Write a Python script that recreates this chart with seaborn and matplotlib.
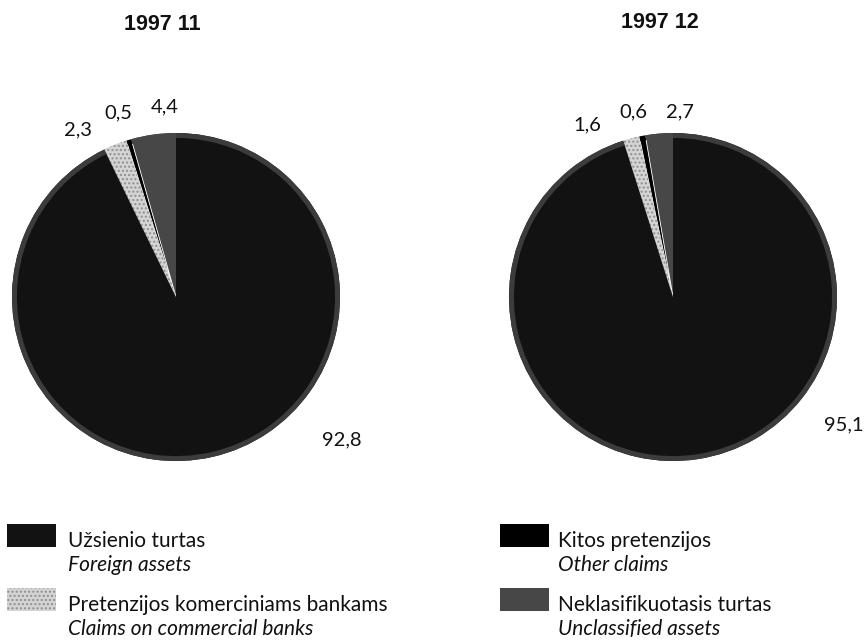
import matplotlib
matplotlib.use("Agg")
import matplotlib.pyplot as plt
from matplotlib.patches import Rectangle
import seaborn as sns

# data (slices counterclockwise from 12 o'clock)
categories = ["Neklasifikuotasis turtas", "Kitos pretenzijos",
              "Pretenzijos komerciniams bankams", "Užsienio turtas"]
categories_en = ["Unclassified assets", "Other claims",
                 "Claims on commercial banks", "Foreign assets"]
periods = ["1997 11", "1997 12"]
values_nov = [4.4, 0.5, 2.3, 92.8]
values_dec = [2.7, 0.6, 1.6, 95.1]
value_labels_nov = ["4,4", "0,5", "2,3", "92,8"]
value_labels_dec = ["2,7", "0,6", "1,6", "95,1"]

sns.set_theme(style="white")
plt.rcParams["font.family"] = ["Lato", "DejaVu Sans"]

colors = ["#474747", "#000000", "#d4d4d4", "#121212"]
rim_colors = ["#474747", "#000000", "#d4d4d4", "#3c3c3c"]
hatches = ["", "", "....", ""]

W, H = 866, 641
fig = plt.figure(figsize=(W / 100, H / 100), dpi=100)

# label positions (in units of radius) for each pie
label_pos = [
    [(-0.07, 1.16), (-0.35, 1.12), (-0.60, 1.02), (1.01, -0.87)],
    [(0.04, 1.13), (-0.24, 1.13), (-0.52, 1.05), (1.04, -0.78)],
]

R = 164
centers = [(176, 297), (673, 297)]
title_xy = [(162, 25), (660, 22)]
for i, (vals, labs) in enumerate([(values_nov, value_labels_nov),
                                   (values_dec, value_labels_dec)]):
    cx, cy = centers[i]
    ax = fig.add_axes([(cx - R) / W, 1 - (cy + R) / H, 2 * R / W, 2 * R / H])
    wedges, _ = ax.pie(vals, colors=colors, startangle=90, counterclock=True,
                       wedgeprops=dict(linewidth=0))
    for w, h in zip(wedges, hatches):
        if h:
            w.set_hatch(h)
            w.set_edgecolor("#8f8f8f")
            w.set_linewidth(0)
    wedges[1].set_edgecolor("white")
    wedges[1].set_linewidth(0.6)
    # grey dithered rim on the big slice (thin outer ring)
    rim, _ = ax.pie(vals, colors=rim_colors, startangle=90, counterclock=True,
                    wedgeprops=dict(width=0.03, linewidth=0))
    for w, h in zip(rim, hatches):
        if h:
            w.set_hatch(h)
            w.set_edgecolor("#8f8f8f")
    ax.set_xlim(-1, 1)
    ax.set_ylim(-1, 1)
    ax.set_aspect("equal")
    ax.axis("off")
    for (lx, ly), t in zip(label_pos[i], labs):
        ax.text(lx, ly, t, ha="center", va="center", fontsize=14.5,
                color="#111111", clip_on=False)
    tx, ty = title_xy[i]
    fig.text(tx / W, 1 - ty / H, periods[i], ha="center", va="center",
             fontsize=15.5, fontweight="bold", color="#111111",
             family=["Liberation Sans", "DejaVu Sans"])

# legend
legend_items = [
    (3, 7, 524), (2, 7, 588),
    (1, 500, 524), (0, 500, 588),
]
for idx, x, y in legend_items:
    rect = Rectangle((x / W, 1 - (y + 23) / H), 49 / W, 23 / H,
                     transform=fig.transFigure, facecolor=colors[idx],
                     hatch=hatches[idx] or None,
                     edgecolor="#8f8f8f" if hatches[idx] else colors[idx],
                     linewidth=0)
    fig.add_artist(rect)
    tx = x + 61 - (3 if x > 100 else 0)
    fig.text(tx / W, 1 - (y + 17) / H, categories[idx], ha="left",
             va="center", fontsize=15, color="#111111")
    fig.text(tx / W, 1 - (y + 41) / H, categories_en[idx], ha="left",
             va="center", fontsize=15, style="italic", color="#111111")

fig.savefig("out.png", dpi=100, facecolor="white")
